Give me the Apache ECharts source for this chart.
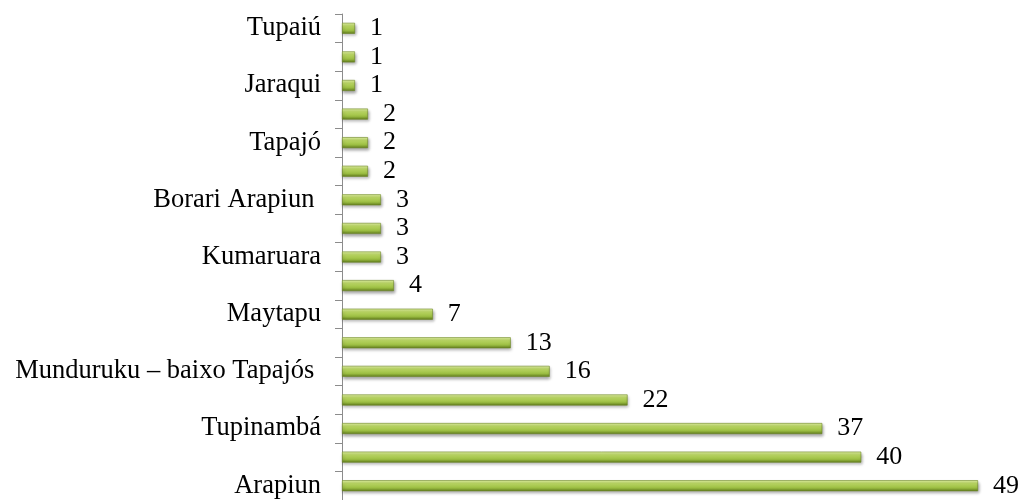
<!DOCTYPE html>
<html>
<head>
<meta charset="utf-8">
<script src="https://cdn.jsdelivr.net/npm/echarts@6/dist/echarts.min.js"></script>
<style>
  html, body { margin: 0; padding: 0; background: #fff; }
  #main { width: 1022px; height: 500px; }
</style>
</head>
<body>
<div id="main"></div>
<script>
// categories from bottom to top (only every other one is labelled in the picture)
var povos = [
  'Arapiun', 'Borari', 'Tupinambá', 'Arara Vermelha', 'Munduruku – baixo Tapajós ',
  'Apiaká', 'Maytapu', 'Tapuia', 'Kumaruara', 'Cara Preta', 'Borari Arapiun ',
  'Sateré-Mawé', 'Tapajó', 'Arapium', 'Jaraqui', 'Munduruku', 'Tupaiú'
];
var aldeias = [49, 40, 37, 22, 16, 13, 7, 4, 3, 3, 3, 2, 2, 2, 1, 1, 1];

var myChart = echarts.init(document.getElementById('main'));
myChart.setOption({
  animation: false,
  grid: { left: 342, right: 5, top: 14, bottom: -2, containLabel: false },
  xAxis: {
    type: 'value', min: 0, max: 52, show: false
  },
  yAxis: {
    type: 'category',
    data: povos,
    axisLine: { lineStyle: { color: '#8c8c8c', width: 1 } },
    axisTick: { show: true, interval: 0, length: 7, lineStyle: { color: '#8c8c8c' } },
    axisLabel: {
      interval: 1, margin: 21,
      fontFamily: 'Liberation Serif', fontSize: 26.5, color: '#000'
    }
  },
  series: [{
    type: 'bar',
    data: aldeias,
    barWidth: 11,
    itemStyle: {
      color: new echarts.graphic.LinearGradient(0, 0, 0, 1, [
        { offset: 0, color: '#e3f3a6' },
        { offset: 0.3, color: '#bcd964' },
        { offset: 0.7, color: '#9bbd42' },
        { offset: 1, color: '#5f7a1c' }
      ]),
      borderColor: '#6b8724', borderWidth: 0.6,
      shadowColor: 'rgba(0,0,0,0.35)', shadowBlur: 3, shadowOffsetX: 1, shadowOffsetY: 2
    },
    label: {
      show: true, position: 'right', distance: 15,
      fontFamily: 'Liberation Serif', fontSize: 26, color: '#000'
    }
  }]
});
</script>
</body>
</html>
